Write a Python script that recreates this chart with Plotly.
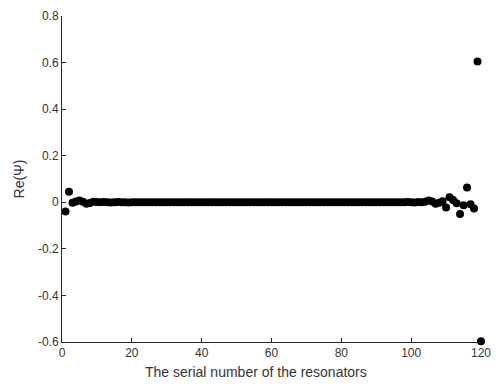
import plotly.graph_objects as go

serial = list(range(1, 121))
re_psi = [
    -0.040, 0.045, -0.002, 0.003, 0.008, 0.002, -0.006, -0.003, 0.002, 0.001,
    0.000, 0.001, 0.000, -0.001, 0.000, 0.001, 0.000, 0.000, -0.001, 0.000,
    0.000, 0.000, 0.000, 0.000, 0.000, 0.000, 0.000, 0.000, 0.000, 0.000,
    0.000, 0.000, 0.000, 0.000, 0.000, 0.000, 0.000, 0.000, 0.000, 0.000,
    0.000, 0.000, 0.000, 0.000, 0.000, 0.000, 0.000, 0.000, 0.000, 0.000,
    0.000, 0.000, 0.000, 0.000, 0.000, 0.000, 0.000, 0.000, 0.000, 0.000,
    0.000, 0.000, 0.000, 0.000, 0.000, 0.000, 0.000, 0.000, 0.000, 0.000,
    0.000, 0.000, 0.000, 0.000, 0.000, 0.000, 0.000, 0.000, 0.000, 0.000,
    0.000, 0.000, 0.000, 0.000, 0.000, 0.000, 0.000, 0.000, 0.000, 0.000,
    0.000, 0.000, 0.000, 0.000, 0.000, 0.000, 0.000, 0.000, 0.001, 0.000,
    -0.001, 0.001, 0.000, 0.002, 0.008, 0.003, -0.006, -0.002, 0.004, -0.022,
    0.022, 0.010, -0.004, -0.050, -0.013, 0.064, -0.008, -0.027, 0.605, -0.597,
]
x_ticks = [0, 20, 40, 60, 80, 100, 120]
y_ticks = [-0.6, -0.4, -0.2, 0, 0.2, 0.4, 0.6, 0.8]
y_tick_text = ["-0.6", "-0.4", "-0.2", "0", "0.2", "0.4", "0.6", "0.8"]

fig = go.Figure(go.Scatter(
    x=serial, y=re_psi, mode="markers",
    marker=dict(size=8, color="black"),
    cliponaxis=False,
))

axis_color = "#262626"
fig.update_layout(
    width=500, height=387,
    margin=dict(l=62, r=16, t=9, b=45),
    plot_bgcolor="white", paper_bgcolor="white",
    font=dict(family="Liberation Sans, Arial, sans-serif", size=12, color="#333333"),
    showlegend=False,
    xaxis=dict(
        range=[0, 120], tickvals=x_ticks, ticks="inside", ticklen=4,
        tickcolor=axis_color, showline=True, linecolor=axis_color, linewidth=1,
        showgrid=False, zeroline=False, mirror=False,
    ),
    yaxis=dict(
        range=[-0.6, 0.8], tickvals=y_ticks, ticktext=y_tick_text,
        ticks="inside", ticklen=4,
        tickcolor=axis_color, showline=True, linecolor=axis_color, linewidth=1,
        showgrid=False, zeroline=False, mirror=False,
        title=dict(text="Re(Ψ)", standoff=10, font=dict(size=14)),
    ),
    annotations=[dict(
        text="The serial number of the resonators",
        xref="paper", yref="paper", x=0.462, y=-0.093,
        xanchor="center", yanchor="middle", showarrow=False,
        font=dict(size=14, color="#333333"),
    )],
)

fig.write_html("out.html")
